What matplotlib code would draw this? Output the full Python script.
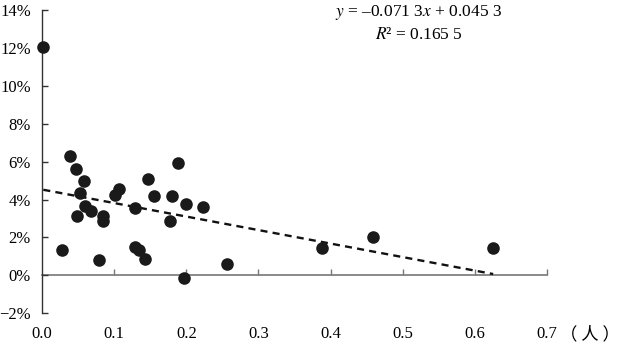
import matplotlib
matplotlib.use("Agg")
import matplotlib.pyplot as plt
import numpy as np

plt.rcParams['font.family'] = ['Liberation Serif', 'Noto Sans CJK SC', 'DejaVu Sans']
plt.rcParams['mathtext.fontset'] = 'stix'
plt.rcParams['axes.unicode_minus'] = True

# data: x (persons), y (growth rate, fraction)
x_vals = [0.0018, 0.0393, 0.0468, 0.0583, 0.0523, 0.0597, 0.0676, 0.0481, 0.0843, 0.0852,
          0.0282, 0.0796, 0.1014, 0.1069, 0.1287, 0.1296, 0.1343, 0.1426, 0.1468, 0.1551,
          0.1885, 0.1806, 0.1773, 0.2000, 0.2227, 0.1972, 0.2569, 0.3885, 0.4588, 0.6254]
y_vals = [0.1205, 0.0630, 0.0560, 0.0497, 0.0432, 0.0368, 0.0342, 0.0312, 0.0311, 0.0288,
          0.0135, 0.0083, 0.0425, 0.0458, 0.0356, 0.0149, 0.0134, 0.0086, 0.0511, 0.0421,
          0.0592, 0.0419, 0.0286, 0.0379, 0.0362, -0.0012, 0.0062, 0.0147, 0.0205, 0.0142]

slope = -0.0713
intercept = 0.0453
eq_text = r"$y$ = –0.071 3$x$ + 0.045 3"
r2_text = r"$R$² = 0.165 5"

x_ticks = [0.0, 0.1, 0.2, 0.3, 0.4, 0.5, 0.6, 0.7]
x_ticklabels = ["0.0", "0.1", "0.2", "0.3", "0.4", "0.5", "0.6", "0.7"]
y_ticks = [-0.02, 0.0, 0.02, 0.04, 0.06, 0.08, 0.10, 0.12, 0.14]
y_ticklabels = ["\u22122%", "0%", "2%", "4%", "6%", "8%", "10%", "12%", "14%"]
x_unit = "（ 人 ）"

fig = plt.figure(figsize=(6.21, 3.45), dpi=100)
ax = fig.add_axes([42/621, 1 - 313.3/345, (547-42)/621, (313.3-10)/345])

ax.set_xlim(0, 0.7)
ax.set_ylim(-0.02, 0.14)

ax.scatter(x_vals, y_vals, s=82, color='#1a1a1a', zorder=3, clip_on=False, linewidths=0)

xs = np.array([min(x_vals), max(x_vals)])
ax.plot(xs, slope * xs + intercept, color='#111111', linestyle=(0, (3, 2.2)), linewidth=1.7, zorder=2)

for s in ['top', 'right', 'bottom']:
    ax.spines[s].set_visible(False)
ax.spines['left'].set_color('#333333')
ax.spines['left'].set_linewidth(1.0)

ax.set_yticks(y_ticks)
ax.set_yticklabels(y_ticklabels)
ax.tick_params(axis='y', direction='in', length=4, width=1.0, color='#333333', pad=8, labelsize=12)

ax.set_xticks(x_ticks)
ax.set_xticklabels(x_ticklabels)
ax.tick_params(axis='x', length=0, pad=9, labelsize=12)
for lbl in ax.get_xticklabels():
    lbl.set_x(lbl.get_position()[0])

# zero line axis with upward ticks
zero_frac = (0 - (-0.02)) / (0.14 - (-0.02))
sec = ax.secondary_xaxis(zero_frac)
sec.set_xticks(x_ticks[1:])
sec.tick_params(axis='x', direction='in', length=4, width=1.0, color='#777777', labelbottom=False, labeltop=False)
sec.set_xticklabels([])
for s in sec.spines.values():
    s.set_color('#777777')
    s.set_linewidth(1.2)

ax.text(0.522, 0.1385, eq_text, fontsize=12.5, ha='center', va='center')
ax.text(0.522, 0.1270, r2_text, fontsize=12.5, ha='center', va='center')

fig.text(590/621, 1 - 334/345, x_unit, fontsize=12.5, ha='center', va='center',
         family=['Noto Sans CJK SC', 'DejaVu Sans'])

fig.savefig("out.png", dpi=100)
